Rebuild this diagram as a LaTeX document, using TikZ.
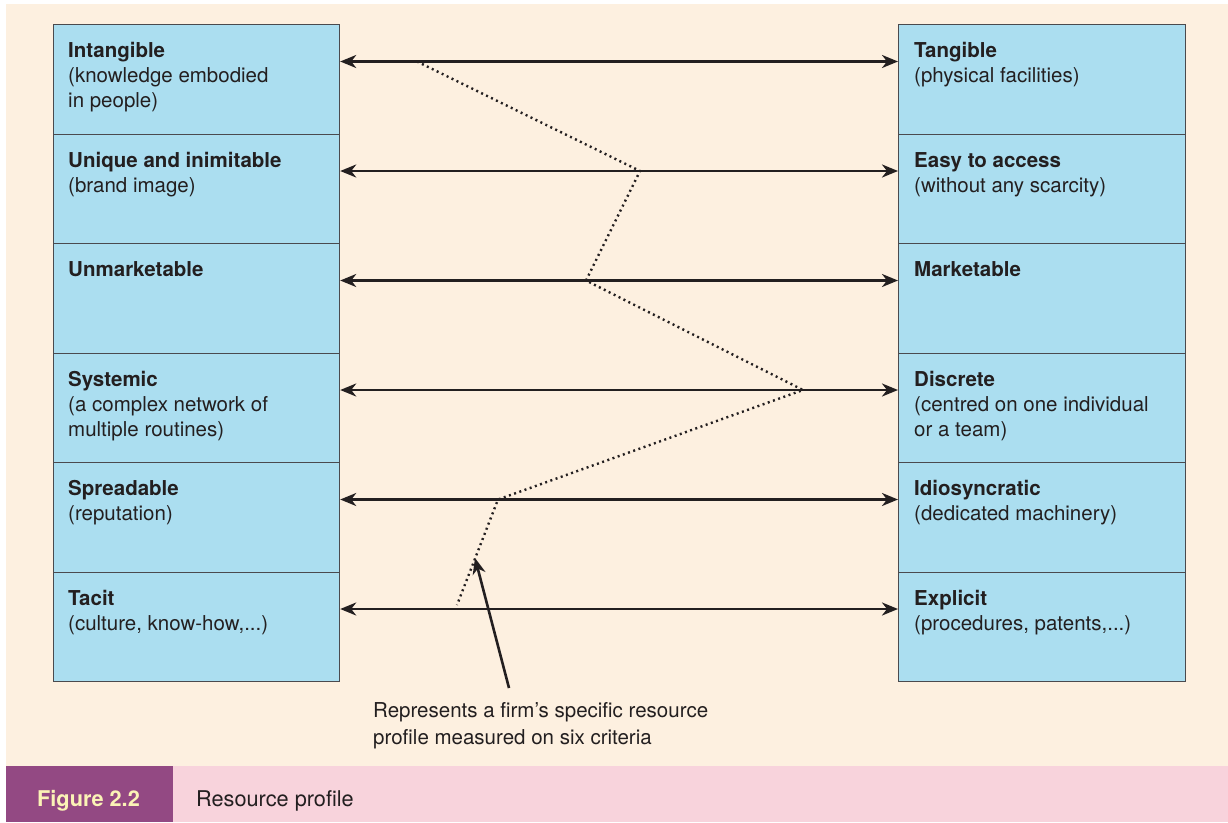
\documentclass[tikz,border=0pt]{standalone}
\usepackage{fontspec}
\setmainfont{TeX Gyre Heros}
\usetikzlibrary{arrows.meta}
\definecolor{cream}{HTML}{FDF0E0}
\definecolor{boxblue}{HTML}{ABDEF0}
\definecolor{boxline}{HTML}{4A4A4E}
\definecolor{inkdark}{HTML}{231F20}
\definecolor{capink}{HTML}{F8D3DC}
\definecolor{cappurple}{HTML}{934983}
\definecolor{capyellow}{HTML}{FBF3B6}
\begin{document}
\begin{tikzpicture}[x=1pt,y=-1pt,
  cell/.style={draw=boxline, fill=boxblue, line width=1.2pt, inner sep=0pt,
    minimum height=109.5pt, anchor=north west},
  lcell/.style={cell, minimum width=286pt},
  rcell/.style={cell, minimum width=287pt},
  lbl/.style={anchor=north west, align=left, inner sep=0pt, text=inkdark,
    font=\fontsize{20.5}{25}\selectfont},
  biarrow/.style={draw=inkdark, line width=2.6pt,
    {Stealth[length=16pt,width=13pt,inset=5pt]}-{Stealth[length=16pt,width=13pt,inset=5pt]}},
  profile/.style={draw=inkdark, line width=2.4pt, dash pattern=on 2pt off 3.5pt},
  pointer/.style={draw=inkdark, line width=2.6pt, -{Stealth[length=16pt,width=13pt,inset=5pt]}},
  captxt/.style={anchor=base west, inner sep=0pt, font=\fontsize{21.7}{26}\selectfont}
]
% page background and caption strip
\path[fill=white] (0,0) rectangle (1228,822);
\path[fill=cream] (6,4) rectangle (1228,766);
\path[fill=capink] (6,766) rectangle (1228,822);
\path[fill=cappurple] (6,766) rectangle (173,822);
\useasboundingbox (0,0) rectangle (1228,822);

% two columns of criterion cells
\foreach \i/\t in {1/24, 2/133.5, 3/243, 4/352.5, 5/462, 6/571.5}{
  \node[lcell] (L\i) at (53,\t) {};
  \node[rcell] (R\i) at (898,\t) {};
}

% cell texts
\node[lbl] (L1t) at (68,42.5) {\textbf{Intangible}\\(knowledge embodied\\in people)};
\node[lbl] (L2t) at (68,152) {\textbf{Unique and inimitable}\\(brand image)};
\node[lbl] (L3t) at (68,261.5) {\textbf{Unmarketable}};
\node[lbl] (L4t) at (68,371) {\textbf{Systemic}\\(a complex network of\\multiple routines)};
\node[lbl] (L5t) at (68,480.5) {\textbf{Spreadable}\\(reputation)};
\node[lbl] (L6t) at (68,590) {\textbf{Tacit}\\(culture, know-how,...)};

\node[lbl] (R1t) at (914,42.5) {\textbf{Tangible}\\(physical facilities)};
\node[lbl] (R2t) at (914,152) {\textbf{Easy to access}\\(without any scarcity)};
\node[lbl] (R3t) at (914,261.5) {\textbf{Marketable}};
\node[lbl] (R4t) at (914,371) {\textbf{Discrete}\\(centred on one individual\\or a team)};
\node[lbl] (R5t) at (914,480.5) {\textbf{Idiosyncratic}\\(dedicated machinery)};
\node[lbl] (R6t) at (914,590) {\textbf{Explicit}\\(procedures, patents,...)};

% two-headed scales between the paired criteria
\foreach \i in {1,...,6}{
  \draw[biarrow] ([yshift=-37.5pt]L\i.north east) -- ([yshift=-37.5pt]R\i.north west);
}

% the firm's profile
\coordinate (p1) at (417,61.5);
\coordinate (p2) at (640,171);
\coordinate (p3) at (586,280.5);
\coordinate (p4) at (803,390);
\coordinate (p5) at (498,499.5);
\coordinate (p6) at (457,605);
\draw[profile] (p1) -- (p2) -- (p3) -- (p4) -- (p5) -- (p6);

% annotation
\node[lbl, font=\fontsize{20.5}{27}\selectfont] (note) at (373,702.5) {Represents a firm’s specific resource\\profile measured on six criteria};
\coordinate (ptail) at (509,688);
\coordinate (ptip) at (475,558);
\draw[pointer] (ptail) -- (ptip);

% caption
\node[captxt, text=capyellow, font=\fontsize{21.7}{26}\selectfont\bfseries] (fig) at (37,806) {Figure 2.2};
\node[captxt, text=inkdark] (cap) at (196,806) {Resource profile};
\end{tikzpicture}
\end{document}
